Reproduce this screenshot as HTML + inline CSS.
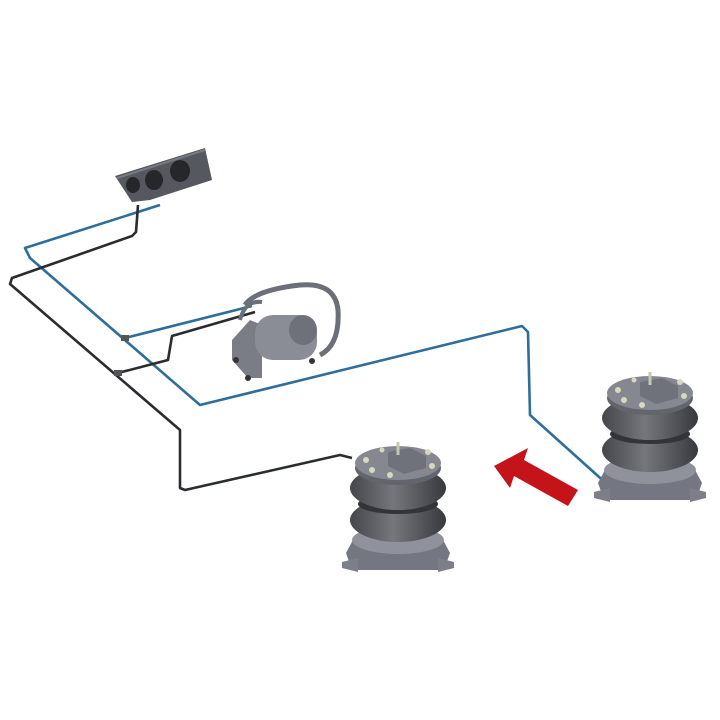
<!DOCTYPE html>
<html><head><style>html,body{margin:0;background:#fff}svg{display:block}</style></head><body>
<svg width="720" height="720" viewBox="0 0 720 720" xmlns="http://www.w3.org/2000/svg">
<defs>
<linearGradient id="bel" x1="0" x2="1"><stop offset="0" stop-color="#45464b"/><stop offset="0.45" stop-color="#75777d"/><stop offset="1" stop-color="#38393d"/></linearGradient>
<g id="spring">
  <path d="M-52 95 L-44 80 L44 80 L52 95 L46 112 L-46 112 Z" fill="#747782"/>
  <path d="M-56 104 L-40 100 L-40 114 L-56 110 Z M56 104 L40 100 L40 114 L56 110 Z" fill="#7c7f88"/>
  <ellipse cx="0" cy="82" rx="46" ry="14" fill="#8f929b"/>
  <ellipse cx="0" cy="62" rx="48" ry="22" fill="url(#bel)"/>
  <ellipse cx="0" cy="46" rx="40" ry="10" fill="#333438"/>
  <ellipse cx="0" cy="30" rx="48" ry="22" fill="url(#bel)"/>
  <ellipse cx="0" cy="10" rx="43" ry="17" fill="#63656d"/>
  <ellipse cx="0" cy="5" rx="43" ry="17" fill="#858891"/>
  <path d="M-10 -6 L12 -10 L28 -2 L28 10 L6 16 L-10 8 Z" fill="#6f727b"/>
  <line x1="0" y1="-3" x2="0" y2="-16" stroke="#c8c8b0" stroke-width="3"/>
  <circle cx="-32" cy="2" r="3" fill="#d8d8c0"/><circle cx="-26" cy="12" r="3" fill="#d8d8c0"/>
  <circle cx="-8" cy="17" r="3" fill="#d8d8c0"/><circle cx="30" cy="-6" r="3" fill="#d8d8c0"/>
  <circle cx="34" cy="8" r="3" fill="#d8d8c0"/><circle cx="-16" cy="-8" r="2.5" fill="#d8d8c0"/>
</g>
</defs>
<g fill="none" stroke-linejoin="round" stroke-width="2.6">
  <polyline points="160,205 25,248 30,258 200,405 522,326 528,332 530,415 608,485 612,486" stroke="#2f6e9a"/>
  <polyline points="125,338 252,306" stroke="#2f6e9a"/>
  <polyline points="138,205 136,232 132,236 12,278 10,284 180,430 180,488 185,490 340,455 352,458" stroke="#2a2c30"/>
  <polyline points="118,373 168,360 172,336 255,312" stroke="#2a2c30"/>
</g>
<rect x="121" y="335" width="8" height="6" fill="#555"/><rect x="114" y="370" width="8" height="6" fill="#555"/>
<path d="M115 176 L205 148 L212 180 L150 200 L132 202 Z" fill="#55585f"/>
<path d="M117 178 L205 150" stroke="#777a82" stroke-width="2"/>
<ellipse cx="133" cy="185" rx="7" ry="8" fill="#25272b"/>
<ellipse cx="154" cy="180" rx="9" ry="10" fill="#25272b"/>
<ellipse cx="180" cy="171" rx="10" ry="11" fill="#25272b"/>
<g>
  <path d="M245 305 Q255 290 300 285 Q335 282 338 310 Q340 345 320 355" fill="none" stroke="#6c6f77" stroke-width="5"/>
  <path d="M232 340 L250 320 L262 325 L262 378 L248 378 L232 360 Z" fill="#7a7d85"/>
  <rect x="255" y="315" width="62" height="45" rx="18" fill="#8a8d95"/>
  <ellipse cx="303" cy="330" rx="14" ry="15" fill="#6e7179"/>
  <path d="M240 320 Q245 300 262 302" fill="none" stroke="#6c6f77" stroke-width="4"/>
  <circle cx="248" cy="378" r="3" fill="#333"/><circle cx="236" cy="360" r="3" fill="#333"/><circle cx="312" cy="361" r="3" fill="#333"/>
</g>
<use href="#spring" x="398" y="458"/>
<use href="#spring" x="650" y="388"/>
<path d="M494 466 L528 448 L524 460 L578 490 L568 506 L514 476 L510 488 Z" fill="#c4141a"/>
</svg>
</body></html>
